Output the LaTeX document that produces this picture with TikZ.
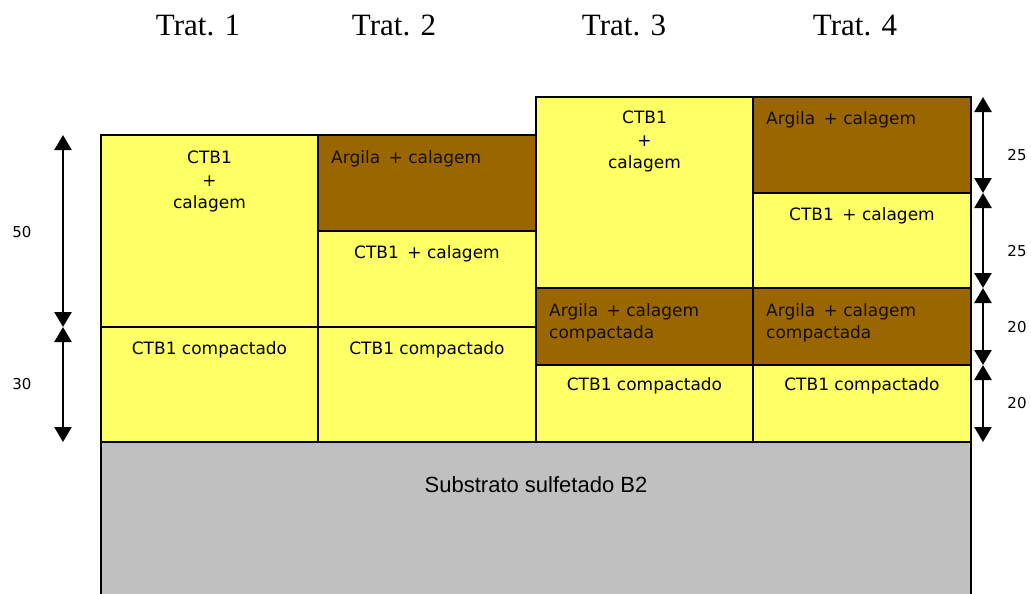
\documentclass[tikz,border=0pt]{standalone}
\usepackage{fontspec}
\setmainfont{Liberation Serif}
\newfontfamily\boxfont{DejaVu Sans}
\newfontfamily\basefont{Liberation Sans}
\usetikzlibrary{arrows.meta}
\definecolor{ctbyellow}{RGB}{255,255,102}
\definecolor{claybrown}{RGB}{153,102,0}
\definecolor{basegray}{RGB}{192,192,192}
\begin{document}
\begin{tikzpicture}[x=1pt, y=-1pt,
	ctb/.style={draw, line width=1.5pt, fill=ctbyellow},
	clay/.style={draw, line width=1.5pt, fill=claybrown},
	midtext/.style={font=\boxfont\fontsize{17}{22.5}\selectfont, align=center, anchor=north, inner sep=0pt},
	claytext/.style={font=\boxfont\fontsize{17}{22.5}\selectfont, align=left, anchor=north west, inner sep=0pt, text=black!85!claybrown},
	trat/.style={font=\fontsize{31}{31}\selectfont, anchor=base},
	dimlabel/.style={font=\boxfont\fontsize{15}{15}\selectfont},
	dim/.style={{Triangle[width=17pt,length=15pt]}-{Triangle[width=17pt,length=15pt]}, line width=2.5pt}]
	\useasboundingbox (0,0) rectangle (1031,594);

	% headers
	\node[trat] (t1) at (198,36) {Trat. 1};
	\node[trat] (t2) at (394,36) {Trat. 2};
	\node[trat] (t3) at (624,36) {Trat. 3};
	\node[trat] (t4) at (855,36) {Trat. 4};

	% substrate
	\fill[basegray] (101,442) rectangle (971,600);
	\draw[line width=1.5pt] (101,600) -- (101,442) -- (971,442) -- (971,600);
	\node[font=\basefont\fontsize{22}{22}\selectfont, anchor=base] (sub) at (536,492) {Substrato sulfetado B2};

	% Trat. 1
	\draw[ctb] (101,135) rectangle (318,327);
	\draw[ctb] (101,327) rectangle (318,442);
	\node[midtext] (t1a) at (209.5,151) {CTB1\\+\\calagem};
	\node[midtext] (t1b) at (209.5,341) {CTB1 compactado};

	% Trat. 2
	\draw[clay] (318,135) rectangle (536,231);
	\draw[ctb] (318,231) rectangle (536,327);
	\draw[ctb] (318,327) rectangle (536,442);
	\node[claytext] (t2a) at (331,150) {Argila\enspace+ calagem};
	\node[midtext] (t2b) at (427,245) {CTB1\enspace+ calagem};
	\node[midtext] (t2c) at (427,341) {CTB1 compactado};

	% Trat. 3
	\draw[ctb] (536,97) rectangle (753,288);
	\draw[clay] (536,288) rectangle (753,365);
	\draw[ctb] (536,365) rectangle (753,442);
	\node[midtext] (t3a) at (644.5,111) {CTB1\\+\\calagem};
	\node[claytext] (t3b) at (549,303) {Argila\enspace+ calagem\\compactada};
	\node[midtext] (t3c) at (644.5,377) {CTB1 compactado};

	% Trat. 4
	\draw[clay] (753,97) rectangle (971,193);
	\draw[ctb] (753,193) rectangle (971,288);
	\draw[clay] (753,288) rectangle (971,365);
	\draw[ctb] (753,365) rectangle (971,442);
	\node[claytext] (t4a) at (766,111) {Argila\enspace+ calagem};
	\node[midtext] (t4b) at (862,207) {CTB1\enspace+ calagem};
	\node[claytext] (t4c) at (766,303) {Argila\enspace+ calagem\\compactada};
	\node[midtext] (t4d) at (862,377) {CTB1 compactado};

	% depth marks
	\coordinate (l0) at (63,135);
	\coordinate (l1) at (63,327);
	\coordinate (l2) at (63,442);
	\coordinate (r0) at (983,97);
	\coordinate (r1) at (983,193);
	\coordinate (r2) at (983,288);
	\coordinate (r3) at (983,365);
	\coordinate (r4) at (983,442);
	\draw[dim] (l0) -- (l1);
	\draw[dim] (l1) -- (l2);
	\draw[dim] (r0) -- (r1);
	\draw[dim] (r1) -- (r2);
	\draw[dim] (r2) -- (r3);
	\draw[dim] (r3) -- (r4);
	\node[dimlabel] (d50) at (22,232) {50};
	\node[dimlabel] (d30) at (22,384) {30};
	\node[dimlabel] (d25a) at (1017,155) {25};
	\node[dimlabel] (d25b) at (1017,251) {25};
	\node[dimlabel] (d20a) at (1017,327) {20};
	\node[dimlabel] (d20b) at (1017,403) {20};
\end{tikzpicture}
\end{document}
